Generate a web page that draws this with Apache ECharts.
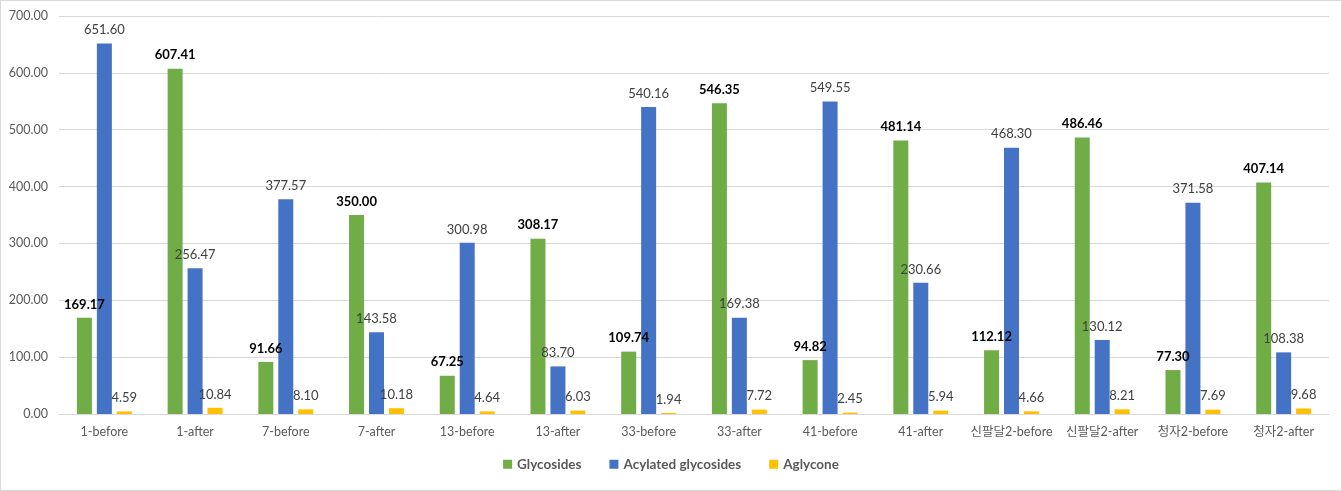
<!DOCTYPE html>
<html><head><meta charset="utf-8">
<script src="https://cdn.jsdelivr.net/npm/echarts@6/dist/echarts.min.js"></script>
<style>html,body{margin:0;padding:0;background:#fff}#c{width:1342px;height:491px;box-sizing:border-box;border:1px solid #d9d9d9}</style>
</head><body><div id="c"></div>
<script>
const categories = ['1-before','1-after','7-before','7-after','13-before','13-after','33-before','33-after','41-before','41-after','신팔달2-before','신팔달2-after','청자2-before','청자2-after'];
const glycosides = [169.17,607.41,91.66,350.00,67.25,308.17,109.74,546.35,94.82,481.14,112.12,486.46,77.30,407.14];
const acylated = [651.60,256.47,377.57,143.58,300.98,83.70,540.16,169.38,549.55,230.66,468.30,130.12,371.58,108.38];
const aglycone = [4.59,10.84,8.10,10.18,4.64,6.03,1.94,7.72,2.45,5.94,4.66,8.21,7.69,9.68];
const seriesNames = ['Glycosides','Acylated glycosides','Aglycone'];
const FONT = 'Lato, "Noto Sans CJK KR", sans-serif';
const chart = echarts.init(document.getElementById('c'));
function lbl(bold){return {show:true,position:'top',distance:7,fontFamily:FONT,fontSize:13,fontWeight:bold?'bold':'normal',color:bold?'#000':'#404040',formatter:p=>p.value.toFixed(2)};}
chart.setOption({
  animation:false,
  grid:{left:58,right:12,top:15,bottom:76,containLabel:false},
  legend:{bottom:14,left:'center',itemWidth:9,itemHeight:9,itemGap:28,icon:'rect',
    textStyle:{fontFamily:FONT,fontSize:13.5,fontWeight:'bold',color:'#595959'},data:seriesNames},
  xAxis:{type:'category',data:categories,axisTick:{show:false},
    axisLine:{lineStyle:{color:'#d9d9d9'}},
    axisLabel:{fontFamily:FONT,fontSize:12.5,color:'#595959',margin:12,interval:0}},
  yAxis:{type:'value',min:0,max:700,interval:100,
    axisLabel:{fontFamily:FONT,fontSize:12.5,color:'#595959',formatter:v=>v.toFixed(2),margin:11},
    splitLine:{lineStyle:{color:'#d9d9d9'}},axisLine:{show:false},axisTick:{show:false}},
  series:[
    {name:seriesNames[0],type:'bar',data:glycosides,barWidth:15,barGap:'33%',itemStyle:{color:'#70ad47'},label:lbl(true)},
    {name:seriesNames[1],type:'bar',data:acylated,barWidth:15,barGap:'33%',itemStyle:{color:'#4472c4'},label:lbl(false)},
    {name:seriesNames[2],type:'bar',data:aglycone,barWidth:15,barGap:'33%',itemStyle:{color:'#ffc000'},label:lbl(false)}
  ]
});
</script></body></html>
